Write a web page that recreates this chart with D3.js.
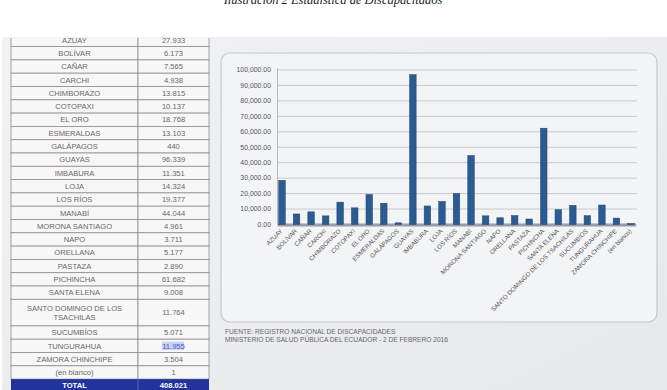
<!DOCTYPE html>
<html lang="es">
<head>
<meta charset="utf-8">
<title>Estadística de Discapacitados</title>
<style>
  body { margin: 0; background: #fff; }
  svg { display: block; font-family: "Liberation Sans", Arial, sans-serif; }
  .cell { fill: #f7f7f7; stroke: #8e8e8e; stroke-width: 0.8; }
  .tname, .tval { fill: #686868; font-size: 7.6px; }
  .grid line { stroke: #c9c9c9; }
  .ytick { fill: #555; font-size: 6.9px; }
  .xlab { fill: #555; font-size: 6.2px; }
  .foot { fill: #666; font-size: 6.6px; }
</style>
</head>
<body>
<svg width="667" height="390"></svg>
<script src="https://cdnjs.cloudflare.com/ajax/libs/d3/7.8.5/d3.min.js"></script>
<script>
// provinces and counts (table and chart)
var provinces = ["AZUAY", "BOLÍVAR", "CAÑAR", "CARCHI", "CHIMBORAZO", "COTOPAXI", "EL ORO",
  "ESMERALDAS", "GALÁPAGOS", "GUAYAS", "IMBABURA", "LOJA", "LOS RÍOS", "MANABÍ",
  "MORONA SANTIAGO", "NAPO", "ORELLANA", "PASTAZA", "PICHINCHA", "SANTA ELENA",
  "SANTO DOMINGO DE LOS TSACHILAS", "SUCUMBÍOS", "TUNGURAHUA", "ZAMORA CHINCHIPE", "(en blanco)"];
var counts = [27933, 6173, 7565, 4938, 13815, 10137, 18768, 13103, 440, 96339, 11351, 14324,
  19377, 44044, 4961, 3711, 5177, 2890, 61682, 9008, 11764, 5071, 11955, 3504, 1];
var totalLabel = "408.021";
var yTicks = [0, 10000, 20000, 30000, 40000, 50000, 60000, 70000, 80000, 90000, 100000];
var footLines = ["FUENTE: REGISTRO NACIONAL DE DISCAPACIDADES",
  "MINISTERIO DE SALUD PÚBLICA DEL ECUADOR - 2 DE FEBRERO 2016"];

var svg = d3.select("svg");

// title (cut at the top in the source)
svg.append("text")
    .attr("x", 333).attr("y", 4)
    .attr("text-anchor", "middle")
    .style("font-family", "'Liberation Serif', serif")
    .style("font-style", "italic")
    .style("font-size", "12.5px")
    .style("fill", "#222")
    .text("Ilustración 2 Estadística de Discapacitados");

// slide background
var bg = svg.append("defs").append("linearGradient")
    .attr("id", "bg").attr("x1", "0%").attr("y1", "0%").attr("x2", "100%").attr("y2", "100%");
bg.append("stop").attr("offset", "0%").attr("stop-color", "#f1f2f3");
bg.append("stop").attr("offset", "100%").attr("stop-color", "#e6e8ea");
svg.append("rect").attr("x", 2).attr("y", 37).attr("width", 665).attr("height", 353)
    .style("fill", "url(#bg)");

// ---- table ----
var rowH = 13.3, top0 = 33.3;
var colX = [11, 138, 209];
var rows = provinces.map(function(p, i) { return {name: p, value: counts[i]}; });
var fmt = function(v) { return d3.format(",")(v).replace(/,/g, "."); };

var tbl = svg.append("g");
tbl.append("clipPath").attr("id", "tclip").append("rect")
    .attr("x", 0).attr("y", 38).attr("width", 220).attr("height", 352);
var tg = tbl.append("g").attr("clip-path", "url(#tclip)");

var yPos = 0;
rows.forEach(function(r) {
  var span = r.name.indexOf("SANTO DOMINGO") === 0 ? 2 : 1;
  var y = top0 + yPos * rowH, h = span * rowH;
  tg.append("rect").attr("class", "cell").attr("x", colX[0]).attr("y", y)
      .attr("width", colX[1] - colX[0]).attr("height", h);
  tg.append("rect").attr("class", "cell").attr("x", colX[1]).attr("y", y)
      .attr("width", colX[2] - colX[1]).attr("height", h);
  var cy = y + h / 2 + 2.7;
  if (span === 2) {
    tg.append("text").attr("class", "tname").attr("text-anchor", "middle")
        .attr("x", (colX[0] + colX[1]) / 2).attr("y", cy - 4.5).text("SANTO DOMINGO DE LOS");
    tg.append("text").attr("class", "tname").attr("text-anchor", "middle")
        .attr("x", (colX[0] + colX[1]) / 2).attr("y", cy + 4.5).text("TSACHILAS");
  } else {
    tg.append("text").attr("class", "tname").attr("text-anchor", "middle")
        .attr("x", (colX[0] + colX[1]) / 2).attr("y", cy).text(r.name);
  }
  if (r.name === "TUNGURAHUA") {
    tg.append("rect").attr("x", 162).attr("y", y + 2.5).attr("width", 22).attr("height", h - 5)
        .style("fill", "#c9d2f2");
  }
  tg.append("text").attr("class", "tval").attr("text-anchor", "middle")
      .attr("x", (colX[1] + colX[2]) / 2).attr("y", cy)
      .style("fill", r.name === "TUNGURAHUA" ? "#4a57c8" : null)
      .text(fmt(r.value));
  yPos += span;
});
// total row
var ty = top0 + yPos * rowH;
tg.append("rect").attr("x", colX[0]).attr("y", ty).attr("width", colX[2] - colX[0]).attr("height", rowH + 2)
    .style("fill", "#22339b");
tg.append("line").attr("x1", colX[1]).attr("x2", colX[1]).attr("y1", ty).attr("y2", ty + rowH + 2)
    .style("stroke", "#5a67b8");
tg.append("text").attr("text-anchor", "middle").attr("x", (colX[0] + colX[1]) / 2).attr("y", ty + 9)
    .style("fill", "#fff").style("font-size", "7.6px").style("font-weight", "bold").text("TOTAL");
tg.append("text").attr("text-anchor", "middle").attr("x", (colX[1] + colX[2]) / 2).attr("y", ty + 9)
    .style("fill", "#fff").style("font-size", "7.6px").style("font-weight", "bold").text(totalLabel);

// ---- chart panel ----
svg.append("rect").attr("x", 221).attr("y", 53).attr("width", 436).attr("height", 269)
    .attr("rx", 9)
    .style("fill", "#f3f4f5").style("stroke", "#c3c7cd").style("stroke-width", 1.2);

var x = d3.scaleBand().domain(provinces).range([278, 635]).paddingInner(0.55).paddingOuter(0.05);
var y = d3.scaleLinear().domain([0, 100000]).range([224.5, 70]);

var g = svg.append("g");

// gridlines
g.append("g").attr("class", "grid")
  .selectAll("line").data(yTicks).enter().append("line")
    .attr("x1", 278).attr("x2", 637)
    .attr("y1", function(d) { return y(d); }).attr("y2", function(d) { return y(d); });

// y-axis line
g.append("line").attr("x1", 277.5).attr("x2", 277.5).attr("y1", y(100000) - 2).attr("y2", y(0) + 1)
    .style("stroke", "#b8b8b8");

// tick labels
g.selectAll(".ytick").data(yTicks).enter().append("text")
    .attr("class", "ytick")
    .attr("x", 271).attr("y", function(d) { return y(d) + 2.3; })
    .attr("text-anchor", "end")
    .text(function(d) { return d3.format(",.2f")(d); });

// floor shadow
g.append("rect").attr("x", 278).attr("y", y(0) - 1).attr("width", 358).attr("height", 3)
    .style("fill", "#9a9ea4");

// bars
g.selectAll(".bar").data(rows).enter().append("rect")
    .attr("class", "bar")
    .attr("x", function(d) { return x(d.name); })
    .attr("width", x.bandwidth())
    .attr("y", function(d) { return y(d.value) - 1; })
    .attr("height", function(d) { return Math.max(1.2, y(0) - y(d.value) + 1); })
    .style("fill", "#2b5b90")
    .style("stroke", "#1f4675").style("stroke-width", 0.5);

// x labels
g.selectAll(".xlab").data(rows).enter().append("text")
    .attr("class", "xlab")
    .attr("text-anchor", "end")
    .attr("transform", function(d) {
      return "translate(" + (x(d.name) + x.bandwidth() / 2 + 1) + "," + (y(0) + 7) + ")rotate(-45)";
    })
    .text(function(d) { return d.name; });

// footnote
svg.selectAll(".foot").data(footLines).enter().append("text")
    .attr("class", "foot")
    .attr("x", 225).attr("y", function(d, i) { return 334 + i * 7.5; })
    .text(function(d) { return d; });
</script>
</body>
</html>
